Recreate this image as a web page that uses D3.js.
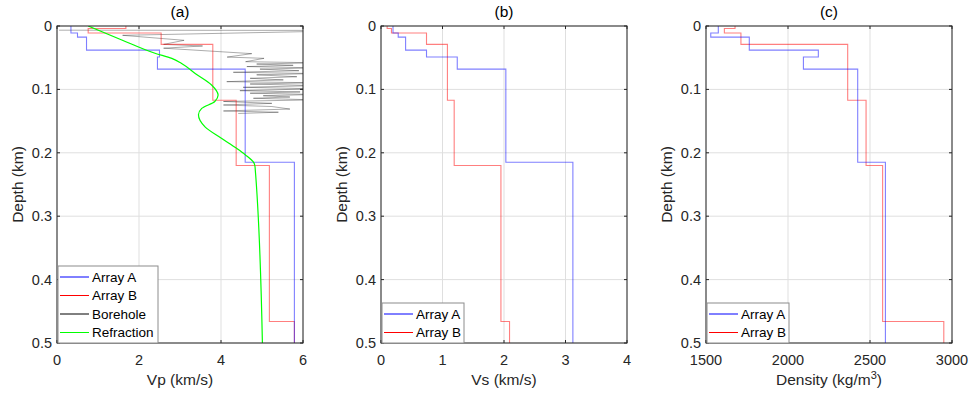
<!DOCTYPE html>
<html><head><meta charset="utf-8">
<script src="https://cdn.jsdelivr.net/npm/d3@7"></script>
<style>
body{margin:0;background:#fff;}
svg{display:block;font-family:"Liberation Sans",Arial,Helvetica,sans-serif;}
</style></head>
<body><svg id="c" width="970" height="399"></svg>
<script>
// ---------- data ----------
const depthTopsA = [0, 0.011, 0.0175, 0.038, 0.049, 0.068, 0.215];
const depthTopsB = [0, 0.004, 0.011, 0.029, 0.117, 0.22, 0.466];
const vpA = [0.34, 0.50, 0.72, 2.50, 2.45, 4.59, 5.79];
const vpB = [1.68, 0.76, 2.54, 3.80, 4.37, 5.18, 5.79];
const vsA = [0.195, 0.28, 0.40, 0.74, 1.24, 2.03, 3.12];
const vsB = [0.10, 0.17, 0.74, 1.08, 1.19, 1.95, 2.09];
const rhoA = [1575, 1529, 1764, 2185, 2094, 2425, 2594];
const rhoB = [1677, 1612, 1713, 2364, 2476, 2577, 2950];
const maxDepth = 0.5;

const refractionDepth = [0, 0.022, 0.043, 0.051, 0.059, 0.075, 0.093, 0.109, 0.119, 0.130, 0.140, 0.159, 0.177, 0.193, 0.203, 0.2155, 0.222, 0.5];
const refractionVp    = [0.76, 1.58, 2.39, 2.80, 3.04, 3.37, 3.77, 3.93, 3.85, 3.53, 3.45, 3.61, 4.01, 4.38, 4.59, 4.80, 4.83, 5.01];

const boreholeDepth = [0.0066, 0.0070, 0.0147, 0.0226, 0.029, 0.0315, 0.035, 0.0436, 0.049, 0.051, 0.0563, 0.058, 0.060, 0.062, 0.064, 0.066, 0.068, 0.0705, 0.073, 0.075, 0.077, 0.080, 0.0825, 0.085, 0.0878, 0.0895, 0.0915, 0.094, 0.0967, 0.099, 0.102, 0.104, 0.106, 0.108, 0.110, 0.112, 0.114, 0.1165, 0.119, 0.122, 0.1246, 0.127, 0.131, 0.134, 0.136, 0.138];
const boreholeVp    = [0.05, 7.5, 1.6, 3.1, 2.6, 3.55, 2.6, 4.75, 4.15, 5.05, 4.6, 6.3, 4.87, 5.76, 4.63, 6.3, 4.95, 5.9, 4.30, 6.3, 4.87, 5.85, 4.71, 5.52, 4.14, 6.3, 4.71, 6.3, 4.54, 6.3, 4.46, 5.93, 4.71, 6.3, 5.03, 5.68, 4.79, 6.3, 4.06, 5.24, 4.06, 5.24, 5.68, 4.06, 5.40, 4.42];

const depthTicks = [0, 0.1, 0.2, 0.3, 0.4, 0.5];
const vpTicks = [0, 2, 4, 6];
const vsTicks = [0, 1, 2, 3, 4];
const rhoTicks = [1500, 2000, 2500, 3000];

const titles = ["(a)", "(b)", "(c)"];
const legendA = ["Array A", "Array B", "Borehole", "Refraction"];
const legendBC = ["Array A", "Array B"];

// ---------- layout ----------
const svg = d3.select("#c");
const yTop = 26, yBot = 343;
const panels = [
  {x0: 57, x1: 303, dom: [0, 6], ticks: vpTicks, label: "Vp (km/s)"},
  {x0: 381, x1: 627, dom: [0, 4], ticks: vsTicks, label: "Vs (km/s)"},
  {x0: 706, x1: 952, dom: [1500, 3000], ticks: rhoTicks, label: "Density"}
];
const y = d3.scaleLinear().domain([0, maxDepth]).range([yTop, yBot]);
const axisCol = "#262626";

function stepPoints(tops, vals) {
  const pts = [];
  tops.forEach((t, i) => {
    const b = i + 1 < tops.length ? tops[i + 1] : maxDepth;
    pts.push([vals[i], t]); pts.push([vals[i], b]);
  });
  return pts;
}

panels.forEach((p, k) => {
  const x = d3.scaleLinear().domain(p.dom).range([p.x0, p.x1]);
  const g = svg.append("g");
  // grid
  g.selectAll(".gx").data(p.ticks).enter().append("line")
    .attr("x1", d => x(d)).attr("x2", d => x(d)).attr("y1", yTop).attr("y2", yBot)
    .attr("stroke", "#dfdfdf").attr("stroke-width", 1);
  g.selectAll(".gy").data(depthTicks).enter().append("line")
    .attr("x1", p.x0).attr("x2", p.x1).attr("y1", d => y(d)).attr("y2", d => y(d))
    .attr("stroke", "#dfdfdf").attr("stroke-width", 1);

  const clipId = "clip" + k;
  svg.append("clipPath").attr("id", clipId).append("rect")
    .attr("x", p.x0).attr("y", yTop).attr("width", p.x1 - p.x0).attr("height", yBot - yTop);
  const pg = g.append("g").attr("clip-path", `url(#${clipId})`);
  const line = d3.line().x(d => x(d[0])).y(d => y(d[1]));

  let valsA, valsB;
  if (k === 0) { valsA = vpA; valsB = vpB; }
  else if (k === 1) { valsA = vsA; valsB = vsB; }
  else { valsA = rhoA; valsB = rhoB; }

  if (k === 0) {
    pg.append("path").datum(boreholeVp.map((v, i) => [v, boreholeDepth[i]]))
      .attr("d", line).attr("fill", "none").attr("stroke", "#000")
      .attr("stroke-width", 0.6).attr("stroke-opacity", 0.55);
  }
  pg.append("path").datum(stepPoints(depthTopsB, valsB)).attr("d", line)
    .attr("fill", "none").attr("stroke", "#ff0000").attr("stroke-opacity", 0.5).attr("stroke-width", 1.1);
  pg.append("path").datum(stepPoints(depthTopsA, valsA)).attr("d", line)
    .attr("fill", "none").attr("stroke", "#0000ff").attr("stroke-opacity", 0.5).attr("stroke-width", 1.1);
  if (k === 0) {
    pg.append("path").datum(refractionVp.map((v, i) => [v, refractionDepth[i]]))
      .attr("d", d3.line().x(d => x(d[0])).y(d => y(d[1])).curve(d3.curveMonotoneY))
      .attr("fill", "none").attr("stroke", "#00ff00").attr("stroke-width", 1.2);
  }

  // box
  g.append("rect").attr("x", p.x0).attr("y", yTop).attr("width", p.x1 - p.x0).attr("height", yBot - yTop)
    .attr("fill", "none").attr("stroke", axisCol).attr("stroke-width", 1);
  // inward ticks
  const tl = 3;
  p.ticks.forEach(t => {
    g.append("line").attr("x1", x(t)).attr("x2", x(t)).attr("y1", yBot).attr("y2", yBot - tl).attr("stroke", axisCol);
    g.append("line").attr("x1", x(t)).attr("x2", x(t)).attr("y1", yTop).attr("y2", yTop + tl).attr("stroke", axisCol);
  });
  depthTicks.forEach(t => {
    g.append("line").attr("x1", p.x0).attr("x2", p.x0 + tl).attr("y1", y(t)).attr("y2", y(t)).attr("stroke", axisCol);
    g.append("line").attr("x1", p.x1).attr("x2", p.x1 - tl).attr("y1", y(t)).attr("y2", y(t)).attr("stroke", axisCol);
  });
  // tick labels
  g.selectAll(".xl").data(p.ticks).enter().append("text")
    .attr("x", d => x(d)).attr("y", 365).attr("text-anchor", "middle")
    .attr("font-size", "14.5px").attr("fill", axisCol).text(d => d);
  g.selectAll(".yl").data(depthTicks).enter().append("text")
    .attr("x", p.x0 - 5).attr("y", d => y(d)).attr("dy", "0.35em").attr("text-anchor", "end")
    .attr("font-size", "14.5px").attr("fill", axisCol).text(d => d);
  // axis labels
  const xl = g.append("text").attr("x", (p.x0 + p.x1) / 2).attr("y", 385).attr("text-anchor", "middle")
    .attr("font-size", "15.5px").attr("fill", axisCol);
  if (k === 2) {
    xl.append("tspan").text("Density (kg/m");
    xl.append("tspan").attr("dy", "-6").attr("font-size", "11px").text("3");
    xl.append("tspan").attr("dy", "6").text(")");
  } else xl.text(p.label);
  g.append("text").attr("transform", `translate(${p.x0 - 34},${(yTop + yBot) / 2}) rotate(-90)`)
    .attr("text-anchor", "middle").attr("font-size", "15.5px").attr("fill", axisCol).text("Depth (km)");
  // title
  g.append("text").attr("x", (p.x0 + p.x1) / 2).attr("y", 17).attr("text-anchor", "middle")
    .attr("font-size", "15.5px").attr("fill", "#000").text(titles[k]);

  // legend
  const items = k === 0 ? legendA : legendBC;
  const colors = k === 0 ? ["#0000ff", "#ff0000", "#000000", "#00ff00"] : ["#0000ff", "#ff0000"];
  const lw = k === 0 ? 100 : 82;
  const rowH = 18.5;
  const lh = items.length * rowH + 3;
  const lx = p.x0 + 1, ly = yBot - lh;
  const lg = g.append("g");
  lg.append("rect").attr("x", lx).attr("y", ly).attr("width", lw).attr("height", lh)
    .attr("fill", "#fff").attr("stroke", "#8c8c8c").attr("stroke-width", 1);
  items.forEach((it, i) => {
    const cy = ly + 11 + i * rowH;
    lg.append("line").attr("x1", lx + 2).attr("x2", lx + 31).attr("y1", cy).attr("y2", cy)
      .attr("stroke", colors[i]).attr("stroke-width", 1);
    lg.append("text").attr("x", lx + 34).attr("y", cy).attr("dy", "0.36em")
      .attr("font-size", "13.5px").attr("fill", "#000").text(it);
  });
});
</script></body></html>
